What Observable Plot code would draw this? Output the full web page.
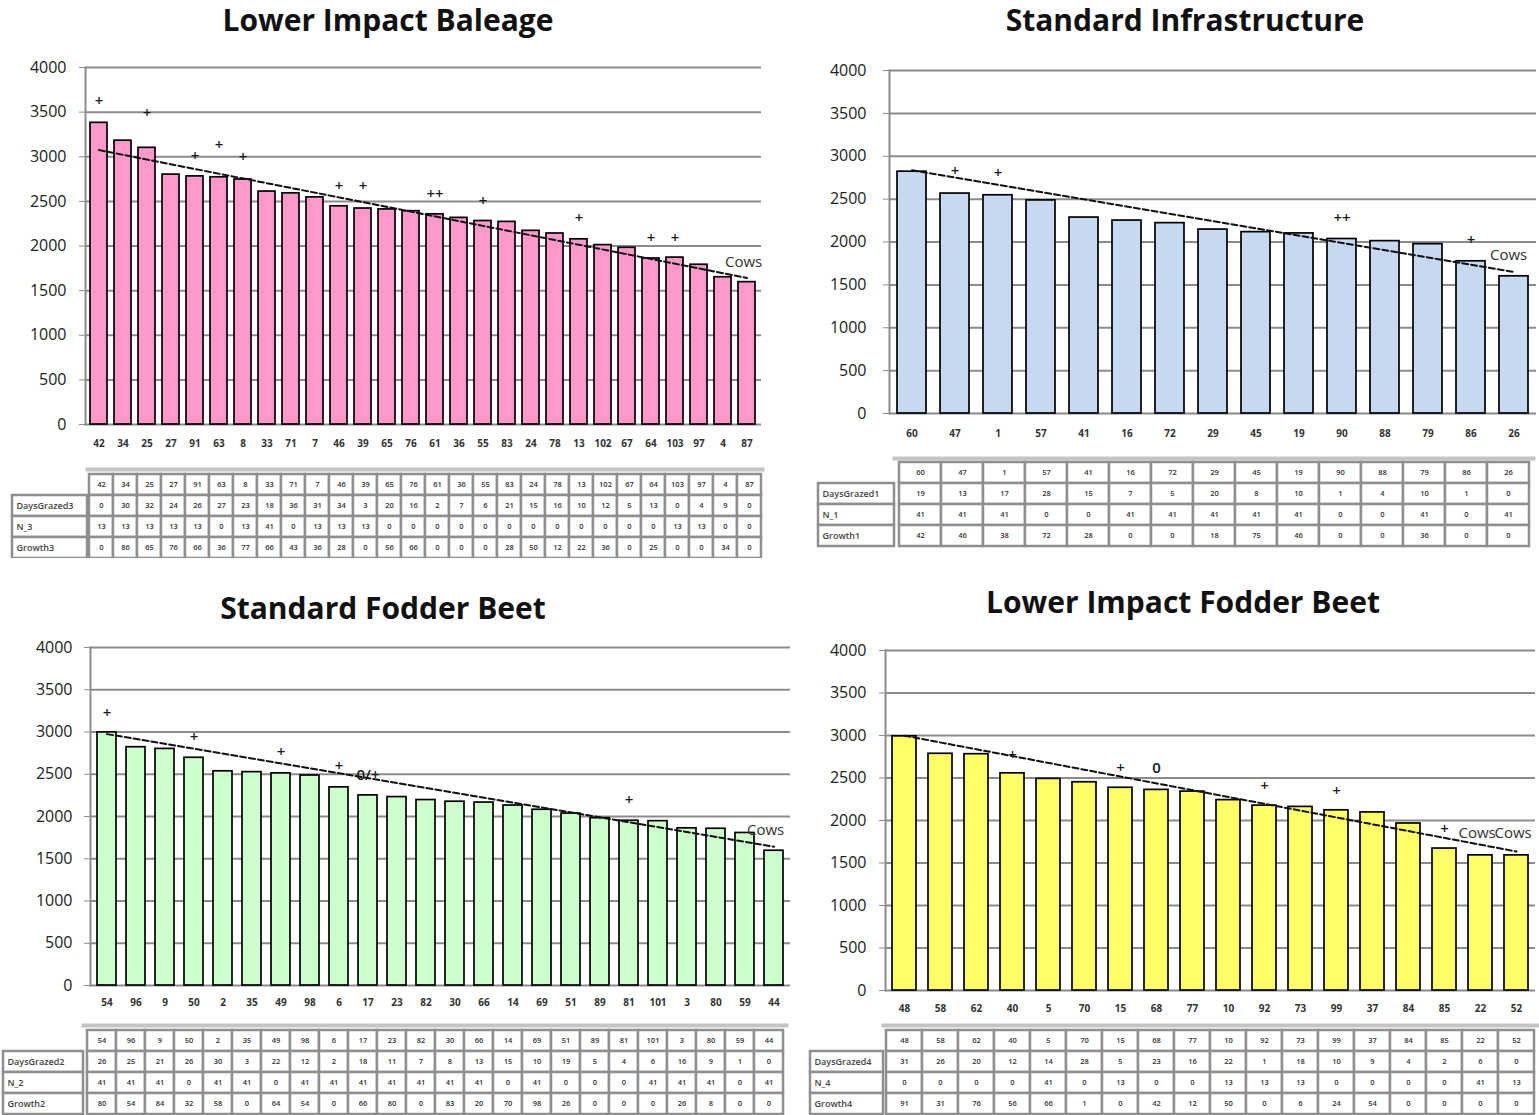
<!DOCTYPE html>
<html><head><meta charset="utf-8">
<script src="https://cdn.jsdelivr.net/npm/d3@7"></script>
<script src="https://cdn.jsdelivr.net/npm/@observablehq/plot@0.6"></script>
<style>
body{margin:0;background:#fff;}
#root{position:relative;width:1539px;height:1115px;overflow:hidden;background:#fff;font-family:"Open Sans",sans-serif;}
.title{position:absolute;text-align:center;font-weight:700;font-size:30px;line-height:1;color:#111;white-space:nowrap;width:600px;}
.abs{position:absolute;}
.clip{position:absolute;overflow:hidden;}
</style></head><body><div id="root"></div>
<script>
// ---------- data ----------
const yTicks = [0, 500, 1000, 1500, 2000, 2500, 3000, 3500, 4000];

// Lower Impact Baleage
const baleageTitle = "Lower Impact Baleage";
const baleageCows = ["42","34","25","27","91","63","8","33","71","7","46","39","65","76","61","36","55","83","24","78","13","102","67","64","103","97","4","87"];
const baleageYield = [3380,3180,3100,2800,2780,2770,2745,2610,2590,2545,2445,2420,2410,2390,2355,2315,2280,2270,2170,2140,2075,2010,1980,1860,1870,1790,1650,1595];
const baleageDays = [0,30,32,24,26,27,23,18,36,31,34,3,20,16,2,7,6,21,15,16,10,12,5,13,0,4,9,0];
const baleageN = [13,13,13,13,13,0,13,41,0,13,13,13,0,0,0,0,0,0,0,0,0,0,0,0,13,13,0,0];
const baleageGrowth = [0,86,65,76,66,36,77,66,43,36,28,0,56,66,0,0,0,28,50,12,22,36,0,25,0,0,34,0];
const baleageRowNames = ["DaysGrazed3","N_3","Growth3"];
const baleageTrend = [3075, 1642];
const baleageMarkCats = ["42","25","91","63","8","46","39","61","55","13","64","103"];
const baleageMarkY = [3620,3485,3010,3130,2990,2665,2665,2580,2500,2310,2090,2090];
const baleageMarkText = ["+","+","+","+","+","+","+","++","+","+","+","+"];
const baleageCowsCats = ["4"];
const baleageCowsY = [1815];

// Standard Infrastructure
const infraTitle = "Standard Infrastructure";
const infraCows = ["60","47","1","57","41","16","72","29","45","19","90","88","79","86","26"];
const infraYield = [2820,2565,2545,2485,2285,2250,2220,2145,2115,2100,2035,2010,1975,1775,1600];
const infraDays = [19,13,17,28,15,7,5,20,8,10,1,4,10,1,0];
const infraN = [41,41,41,0,0,41,41,41,41,41,0,0,41,0,41];
const infraGrowth = [42,46,38,72,28,0,0,18,75,46,0,0,36,0,0];
const infraRowNames = ["DaysGrazed1","N_1","Growth1"];
const infraTrend = [2837, 1651];
const infraMarkCats = ["47","1","90","86"];
const infraMarkY = [2820,2800,2275,2025];
const infraMarkText = ["+","+","++","+"];
const infraCowsCats = ["86"];
const infraCowsY = [1843];

// Standard Fodder Beet
const sfbTitle = "Standard Fodder Beet";
const sfbCows = ["54","96","9","50","2","35","49","98","6","17","23","82","30","66","14","69","51","89","81","101","3","80","59","44"];
const sfbYield = [2995,2820,2800,2695,2535,2525,2510,2485,2345,2250,2230,2195,2175,2165,2130,2080,2035,1980,1950,1945,1860,1855,1805,1595];
const sfbDays = [26,25,21,26,30,3,22,12,2,18,11,7,8,13,15,10,19,5,4,6,16,9,1,0];
const sfbN = [41,41,41,0,41,41,0,41,41,41,41,41,41,41,0,41,0,0,0,41,41,41,0,41];
const sfbGrowth = [80,54,84,32,58,0,64,54,0,66,80,0,83,20,70,98,26,0,0,0,26,8,0,0];
const sfbRowNames = ["DaysGrazed2","N_2","Growth2"];
const sfbTrend = [2975, 1643];
const sfbMarkCats = ["54","50","49","6","17","81"];
const sfbMarkY = [3220,2940,2765,2595,2485,2195];
const sfbMarkText = ["+","+","+","+","0/+","+"];
const sfbCowsCats = ["59"];
const sfbCowsY = [1834];

// Lower Impact Fodder Beet
const lifbTitle = "Lower Impact Fodder Beet";
const lifbCows = ["48","58","62","40","5","70","15","68","77","10","92","73","99","37","84","85","22","52"];
const lifbYield = [2990,2785,2780,2555,2490,2450,2385,2360,2340,2240,2175,2160,2120,2095,1965,1670,1590,1590];
const lifbDays = [31,26,20,12,14,28,5,23,16,22,1,18,10,9,4,2,6,0];
const lifbN = [0,0,0,0,41,0,13,0,0,13,13,13,0,0,0,0,41,13];
const lifbGrowth = [91,31,76,56,66,1,0,42,12,50,0,6,24,54,0,0,0,0];
const lifbRowNames = ["DaysGrazed4","N_4","Growth4"];
const lifbTrend = [2998, 1635];
const lifbMarkCats = ["40","15","68","92","99","85"];
const lifbMarkY = [2770,2620,2615,2405,2350,1900];
const lifbMarkText = ["+","+","0","+","+","+"];
const lifbCowsCats = ["85","22"];
const lifbCowsY = [1850,1850];

// ---------- layout ----------
const FONT = '"Open Sans", sans-serif';
const root = document.getElementById("root");

function place(parent, el, left, top) {
  const d = document.createElement("div");
  d.className = "abs";
  d.style.left = left + "px";
  d.style.top = top + "px";
  d.appendChild(el);
  parent.appendChild(d);
  return d;
}

function panel(p, L, T) {
  const t = document.createElement("div");
  t.className = "title";
  t.textContent = p.title;
  t.style.left = (L.titleCx - 300) + "px";
  t.style.top = L.titleTop + "px";
  root.appendChild(t);

  const data = p.cats.map((c, i) => ({cat: c, v: p.yield[i]}));
  const trend = [{cat: p.cats[0], v: p.trend[0]}, {cat: p.cats[p.cats.length - 1], v: p.trend[1]}];
  const marks = p.markCats.map((c, i) => ({cat: c, v: p.markY[i], t: p.markText[i]}));
  const cows = p.cowsCats.map((c, i) => ({cat: c, v: p.cowsY[i]}));

  const chart = Plot.plot({
    width: L.width, height: L.height,
    marginTop: L.mt, marginBottom: L.mb, marginLeft: L.ml, marginRight: L.mr,
    style: {fontFamily: FONT, background: "transparent", overflow: "visible"},
    x: {type: "band", domain: p.cats, paddingInner: L.pad, paddingOuter: L.pad / 2},
    y: {domain: [0, 4000]},
    marks: [
      Plot.ruleY(yTicks, {stroke: "#8c8c8c", strokeWidth: 2}),
      Plot.barY(data, {x: "cat", y: "v", fill: p.color, stroke: "#000", strokeWidth: 1.7}),
      Plot.frame({anchor: "left", stroke: "#8c8c8c", strokeWidth: 2}),
      Plot.line(trend, {x: "cat", y: "v", stroke: "#111", strokeWidth: 2, strokeDasharray: "6,3"}),
      Plot.text(marks, {x: "cat", y: "v", text: "t", fontSize: 15, fontWeight: 600, fill: "#1a1a1a"}),
      Plot.text(cows, {x: "cat", y: "v", text: () => "Cows", textAnchor: "start", dx: L.cowsDx, fontSize: 15, fill: "#333"}),
      Plot.axisY({ticks: yTicks, tickSize: 6, tickPadding: L.ypad, fontSize: 16, stroke: "#8c8c8c", fill: "#222", label: null, tickFormat: d => String(d)}),
      Plot.axisX({tickSize: 0, tickPadding: L.xpad, fontSize: 10, fontWeight: 700, fill: "#333", label: null})
    ]
  });
  place(root, chart, L.left, L.top);

  const clip = document.createElement("div");
  clip.className = "clip";
  const [cl, ct, cw, ch] = T.clip;
  clip.style.left = cl + "px"; clip.style.top = ct + "px";
  clip.style.width = cw + "px"; clip.style.height = ch + "px";
  root.appendChild(clip);

  const rowKeys = ["h", "r1", "r2", "r3"];
  const cells = [];
  p.cats.forEach((c, i) => {
    cells.push({c, r: "h", t: c});
    cells.push({c, r: "r1", t: String(p.days[i])});
    cells.push({c, r: "r2", t: String(p.n[i])});
    cells.push({c, r: "r3", t: String(p.growth[i])});
  });
  const mt = 8;
  const w = T.colRight - T.colLeft;
  const tbl = Plot.plot({
    width: w + 4, height: 4 * T.rowH + mt + 2,
    marginTop: mt, marginBottom: 2, marginLeft: 2, marginRight: 2,
    style: {fontFamily: FONT, background: "transparent", overflow: "visible"},
    x: {type: "band", domain: p.cats, padding: 0, axis: null},
    y: {type: "band", domain: rowKeys, padding: 0, axis: null},
    marks: [
      Plot.frame({anchor: "top", stroke: "#c4c4c4", strokeWidth: 4, insetTop: -4}),
      Plot.cell(cells, {x: "c", y: "r", fill: "white", stroke: "#8f8f8f", strokeWidth: 2.5, inset: 0}),
      Plot.text(cells, {x: "c", y: "r", text: "t", fontSize: 7.5, fontWeight: 600, fill: "#333"})
    ]
  });
  place(clip, tbl, T.colLeft - 2 - cl, T.headerTop - mt - ct);

  const labels = p.rowNames.map((name, i) => ({r: rowKeys[i + 1], name}));
  const lw = T.labelRight - T.labelLeft;
  const lab = Plot.plot({
    width: lw + 4, height: 4 * T.rowH + mt + 2,
    marginTop: mt, marginBottom: 2, marginLeft: 2, marginRight: 2,
    style: {fontFamily: FONT, background: "transparent", overflow: "visible"},
    x: {type: "band", domain: ["l"], padding: 0, axis: null},
    y: {type: "band", domain: rowKeys, padding: 0, axis: null},
    marks: [
      Plot.cell(labels, {x: () => "l", y: "r", fill: "white", stroke: "#8f8f8f", strokeWidth: 2.5, inset: 0}),
      Plot.text(labels, {y: "r", text: "name", frameAnchor: "left", textAnchor: "start", dx: 4, fontSize: 9, fontWeight: 600, fill: "#444"})
    ]
  });
  place(clip, lab, T.labelLeft - 2 - cl, T.headerTop - mt - ct);
}

panel(
  {title: baleageTitle, cats: baleageCows, yield: baleageYield, days: baleageDays, n: baleageN, growth: baleageGrowth,
   rowNames: baleageRowNames, trend: baleageTrend, markCats: baleageMarkCats, markY: baleageMarkY, markText: baleageMarkText,
   cowsCats: baleageCowsCats, cowsY: baleageCowsY, color: "#FF99CC"},
  {titleCx: 388, titleTop: 5, left: 0, top: 57, width: 770, height: 400, mt: 10, mb: 33, ml: 85, mr: 9, pad: 0.28, ypad: 13, xpad: 15, cowsDx: 2},
  {labelLeft: 12, labelRight: 87, colLeft: 87, colRight: 762, headerTop: 472.5, rowH: 21.5, clip: [0, 440, 790, 118]}
);
panel(
  {title: infraTitle, cats: infraCows, yield: infraYield, days: infraDays, n: infraN, growth: infraGrowth,
   rowNames: infraRowNames, trend: infraTrend, markCats: infraMarkCats, markY: infraMarkY, markText: infraMarkText,
   cowsCats: infraCowsCats, cowsY: infraCowsY, color: "#C6D9F0"},
  {titleCx: 1185, titleTop: 5, left: 800, top: 60, width: 739, height: 383, mt: 10, mb: 30, ml: 89, mr: 3, pad: 0.33, ypad: 17, xpad: 16, cowsDx: 19},
  {labelLeft: 818, labelRight: 894, colLeft: 894, colRight: 1533, headerTop: 461.5, rowH: 21, clip: [800, 440, 739, 120]}
);
panel(
  {title: sfbTitle, cats: sfbCows, yield: sfbYield, days: sfbDays, n: sfbN, growth: sfbGrowth,
   rowNames: sfbRowNames, trend: sfbTrend, markCats: sfbMarkCats, markY: sfbMarkY, markText: sfbMarkText,
   cowsCats: sfbCowsCats, cowsY: sfbCowsY, color: "#CCFFCC"},
  {titleCx: 383, titleTop: 593, left: 0, top: 637, width: 800, height: 378, mt: 10, mb: 30, ml: 90, mr: 10, pad: 0.33, ypad: 12, xpad: 13.5, cowsDx: 2},
  {labelLeft: 3, labelRight: 83, colLeft: 83, colRight: 786, headerTop: 1028.5, rowH: 21.5, clip: [0, 1015, 800, 100]}
);
panel(
  {title: lifbTitle, cats: lifbCows, yield: lifbYield, days: lifbDays, n: lifbN, growth: lifbGrowth,
   rowNames: lifbRowNames, trend: lifbTrend, markCats: lifbMarkCats, markY: lifbMarkY, markText: lifbMarkText,
   cowsCats: lifbCowsCats, cowsY: lifbCowsY, color: "#FFFF66"},
  {titleCx: 1183, titleTop: 587, left: 800, top: 640, width: 739, height: 380, mt: 10, mb: 30, ml: 85, mr: 4, pad: 0.33, ypad: 13, xpad: 14.5, cowsDx: 14},
  {labelLeft: 810, labelRight: 883, colLeft: 883, colRight: 1537, headerTop: 1029, rowH: 21.5, clip: [800, 1015, 739, 100]}
);
</script></body></html>
